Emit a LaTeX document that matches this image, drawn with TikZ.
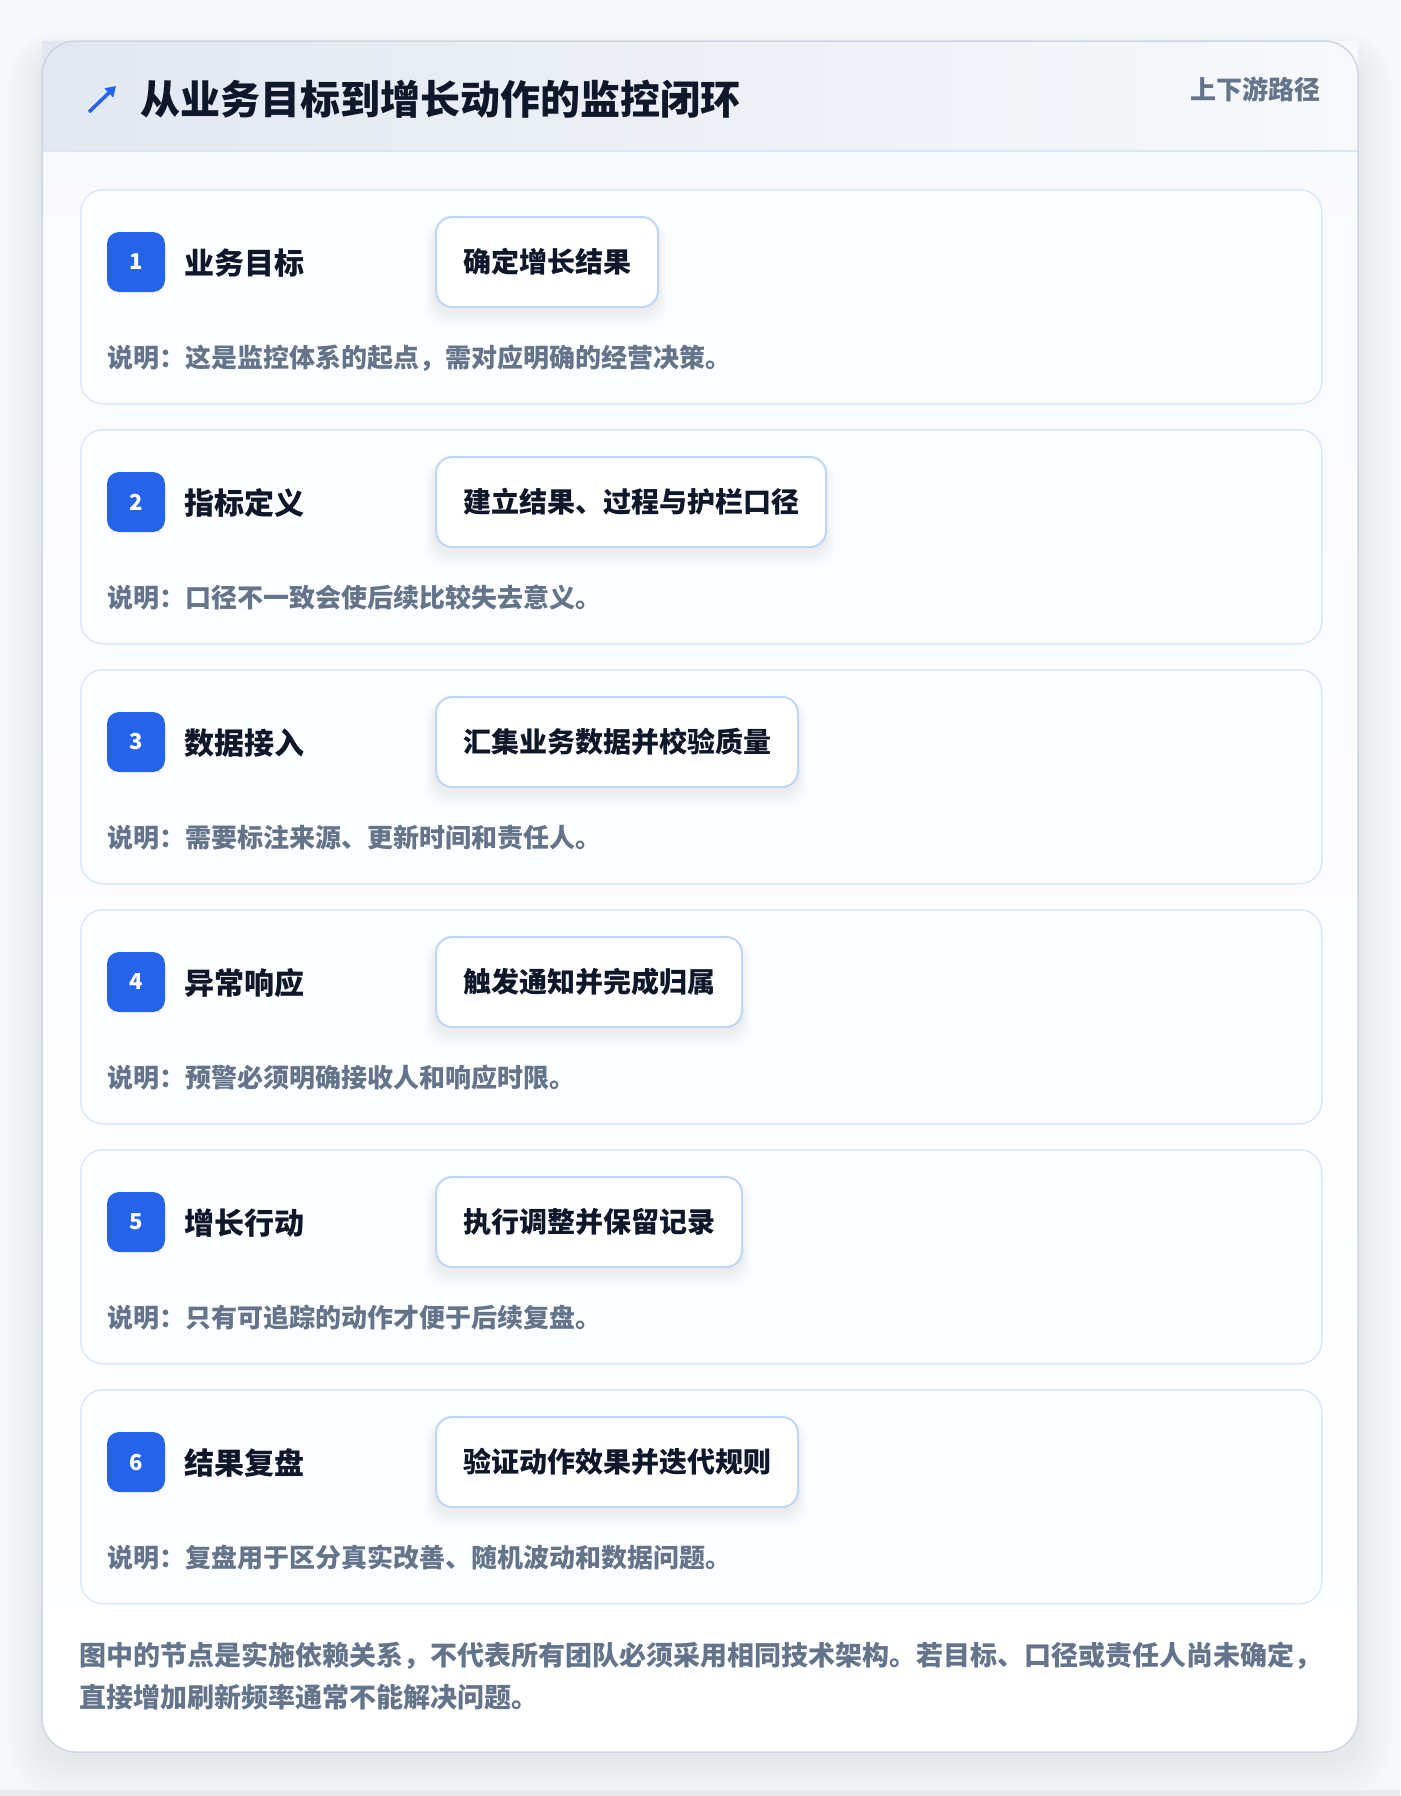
\documentclass[tikz,border=0pt]{standalone}
\usepackage{fontspec}
\setmainfont{Noto Sans CJK SC}
\usetikzlibrary{arrows.meta}
\definecolor{pagebg}{HTML}{F7F8FA}
\definecolor{stripc}{HTML}{E9EBEF}
\definecolor{outerborder}{HTML}{CDD6E2}
\definecolor{headL}{HTML}{E2E8F1}
\definecolor{headR}{HTML}{F7F9FB}
\definecolor{headline}{HTML}{DBE6F5}
\definecolor{bodyfill}{HTML}{F9FAFD}
\definecolor{cardfill}{HTML}{FCFDFF}
\definecolor{cardborder}{HTML}{DCE8F8}
\definecolor{actborder}{HTML}{BFD6F6}
\definecolor{badgeblue}{HTML}{2563EB}
\definecolor{ink}{HTML}{0F172A}
\definecolor{muted}{HTML}{64748B}
\tikzset{
  cardbox/.style={draw=cardborder, fill=cardfill, line width=1.5pt, rounded corners=22pt, inner sep=0pt, minimum width=1241pt, minimum height=214pt, anchor=north west},
  badgebox/.style={fill=badgeblue, rounded corners=12pt, minimum width=58pt, minimum height=60pt, inner sep=0pt, text=white, font=\fontsize{22}{22}\selectfont\bfseries},
  steptitle/.style={inner sep=0pt, anchor=base west, text=ink, font=\fontsize{30}{30}\selectfont\bfseries},
  actbox/.style={draw=actborder, fill=white, line width=2pt, rounded corners=16pt, inner xsep=27pt, inner ysep=0pt, minimum height=90pt, anchor=west, text=ink, text height=21.5pt, text depth=0pt, font=\fontsize{28}{28}\selectfont\bfseries},
  desctext/.style={inner sep=0pt, anchor=base west, text=muted, font=\fontsize{26}{26}\selectfont\bfseries},
  foottext/.style={inner sep=0pt, anchor=base west, text=muted, font=\fontsize{27}{27}\selectfont\bfseries},
}
\newcommand\mystep[6]{%
  \node[cardbox] (card#1) at (80,#2) {};
  \pgfmathsetmacro\actw{54+28*#5}
  \foreach \k in {1,...,8}{
    \fill[black, opacity=0.009, rounded corners=18pt]
      (435-\k*1.2, {#2+28+10-\k*0.6}) rectangle ({435+\actw+\k*1.2}, {#2+118+5+\k*1.6});
  }
  \node[badgebox] (badge#1) at (136,{#2+73}) {#1};
  \node[steptitle] (title#1) at (184,{#2+85}) {#3};
  \node[actbox] (act#1) at (435,{#2+73}) {#4};
  \node[desctext] (desc#1) at (107,{#2+178}) {说明：#6};
}
\begin{document}
\begin{tikzpicture}[x=1pt,y=-1pt]
\useasboundingbox (0,0) rectangle (1400,1796);
\fill[pagebg] (0,0) rectangle (1400,1796);
\fill[stripc] (0,1790) rectangle (1400,1796);
% outer shadow
\foreach \i in {1,...,16}{
  \fill[black, opacity=0.0035, rounded corners={34pt+\i pt}]
    (42-\i*2.2, 41-\i*1.2+10) rectangle (1358+\i*2.2, 1752+\i*2.4+8);
}
% outer card
\fill[top color=bodyfill, bottom color=white, rounded corners=34pt] (42,41) rectangle (1358,1752);
\fill[left color=headL, right color=headR] (42,41) rectangle (1358,151);
\draw[headline, line width=1.5pt] (42,151) -- (1358,151);
\draw[outerborder, line width=1.5pt, rounded corners=34pt] (42,41) rectangle (1358,1752);
% header
\coordinate (arrA) at (89,112);
\coordinate (arrB) at (116,86);
\draw[badgeblue, line width=3.5pt, -{Triangle[length=10pt,width=12pt]}] (arrA) -- (arrB);
\node[inner sep=0pt, anchor=base west, text=ink, font=\fontsize{40}{40}\selectfont\bfseries] (maintitle) at (140,114) {从业务目标到增长动作的监控闭环};
\node[inner sep=0pt, anchor=base east, text=muted, font=\fontsize{26}{26}\selectfont\bfseries] (pathlabel) at (1321,99) {上下游路径};
% steps
\mystep{1}{189}{业务目标}{确定增长结果}{6}{这是监控体系的起点，需对应明确的经营决策。}
\mystep{2}{429}{指标定义}{建立结果、过程与护栏口径}{12}{口径不一致会使后续比较失去意义。}
\mystep{3}{669}{数据接入}{汇集业务数据并校验质量}{11}{需要标注来源、更新时间和责任人。}
\mystep{4}{909}{异常响应}{触发通知并完成归属}{9}{预警必须明确接收人和响应时限。}
\mystep{5}{1149}{增长行动}{执行调整并保留记录}{9}{只有可追踪的动作才便于后续复盘。}
\mystep{6}{1389}{结果复盘}{验证动作效果并迭代规则}{11}{复盘用于区分真实改善、随机波动和数据问题。}
% footer
\node[foottext] (foot1) at (79,1665) {图中的节点是实施依赖关系，不代表所有团队必须采用相同技术架构。若目标、口径或责任人尚未确定，};
\node[foottext] (foot2) at (79,1707) {直接增加刷新频率通常不能解决问题。};
\end{tikzpicture}
\end{document}
